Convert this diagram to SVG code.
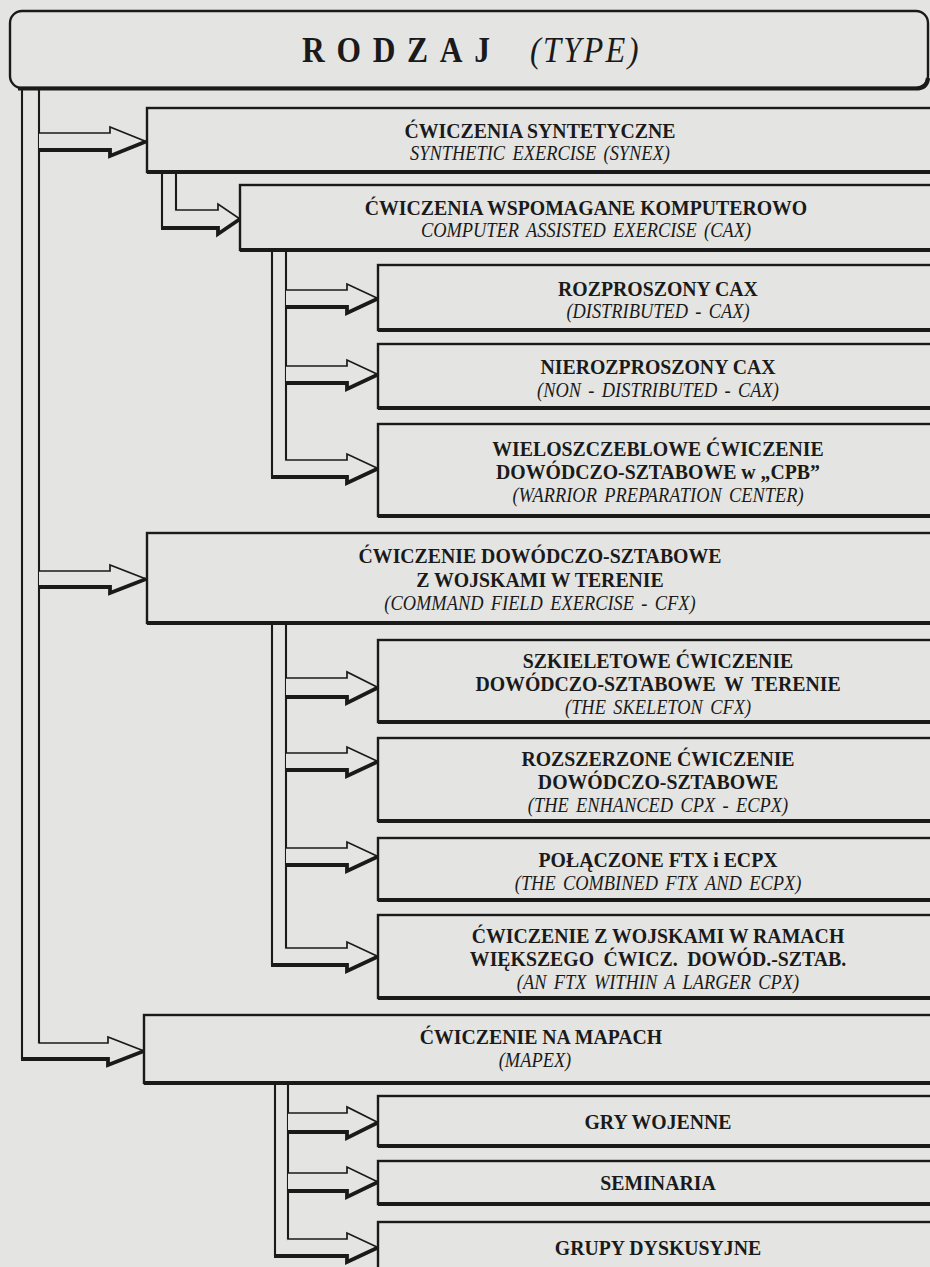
<svg xmlns="http://www.w3.org/2000/svg" width="930" height="1267" viewBox="0 0 930 1267">
<style>
.bg{fill:#e4e5e2}
.box{fill:#e4e5e2;stroke:#1a1a1a;stroke-width:2.4}
.shadow{fill:none;stroke:#1a1a1a;stroke-width:4.2}
.bar{fill:none;stroke:#1a1a1a;stroke-width:2.1}
.ar{fill:#e4e5e2;stroke:#1a1a1a;stroke-width:1.7;stroke-linejoin:miter}
.arl{fill:none;stroke:#1a1a1a;stroke-width:3.8;stroke-linejoin:miter}
.b{font-family:"Liberation Serif","Times New Roman",serif;font-weight:bold;font-size:22px;fill:#1a1a1a;text-anchor:middle}
.i{font-family:"Liberation Serif","Times New Roman",serif;font-style:italic;font-size:20px;fill:#1a1a1a;text-anchor:middle;word-spacing:3px}
</style>
<rect class="bg" x="0" y="0" width="930" height="1267"/>

<g id="root">
  <rect class="box" x="10" y="11" width="918" height="77" rx="12" ry="12"/>
  <path class="shadow" d="M18,88.5 H916 Q927,88.5 928,78"/>
  <text transform="translate(302,62) scale(0.9,1)" style="font-family:'Liberation Serif','Times New Roman',serif;font-weight:bold;font-size:35px;letter-spacing:13px;fill:#1a1a1a">RODZAJ</text>
  <text transform="translate(530,62) scale(0.9,1)" style="font-family:'Liberation Serif','Times New Roman',serif;font-style:italic;font-size:36px;letter-spacing:2.5px;fill:#1a1a1a">(TYPE)</text>
</g>

<g id="connectors">
  <path class="bar" d="M22,89 V1059 M39,89 V1059"/>
  <path class="bar" d="M162,172 V228 M176,172 V228"/>
  <path class="bar" d="M272,250 V477 M286,250 V477"/>
  <path class="bar" d="M272,623 V965 M286,623 V965"/>
  <path class="bar" d="M275,1083 V1256 M288,1083 V1256"/>

  <path class="ar" d="M39,133 H110 V127 L146,141.5 L110,156 V150 H39"/>
  <path class="arl" d="M39,150 H110 V156 L146,141.5"/>
  <path class="ar" d="M39,571 H110 V565 L146,579 L110,593 V587 H39"/>
  <path class="arl" d="M39,587 H110 V593 L146,579"/>
  <path class="ar" d="M39,1043 H108 V1037 L144,1051 L108,1065 V1059 H22"/>
  <path class="arl" d="M21,1059 H108 V1065 L144,1051"/>

  <path class="ar" d="M176,210 H218 V204 L240,219 L218,234 V228 H162"/>
  <path class="arl" d="M161,228 H218 V234 L240,219"/>

  <path class="ar" d="M286,290 H347 V284 L378,298.5 L347,313 V307 H286"/>
  <path class="arl" d="M286,307 H347 V313 L378,298.5"/>
  <path class="ar" d="M286,366 H347 V360 L378,374.5 L347,389 V383 H286"/>
  <path class="arl" d="M286,383 H347 V389 L378,374.5"/>
  <path class="ar" d="M286,460 H347 V454 L378,468.5 L347,483 V477 H272"/>
  <path class="arl" d="M271,477 H347 V483 L378,468.5"/>

  <path class="ar" d="M286,678 H347 V672 L378,687.5 L347,703 V697 H286"/>
  <path class="arl" d="M286,697 H347 V703 L378,687.5"/>
  <path class="ar" d="M286,753 H347 V747 L378,761.5 L347,776 V770 H286"/>
  <path class="arl" d="M286,770 H347 V776 L378,761.5"/>
  <path class="ar" d="M286,848 H347 V842 L378,856.5 L347,871 V865 H286"/>
  <path class="arl" d="M286,865 H347 V871 L378,856.5"/>
  <path class="ar" d="M286,948 H347 V942 L378,956.5 L347,971 V965 H272"/>
  <path class="arl" d="M271,965 H347 V971 L378,956.5"/>

  <path class="ar" d="M288,1113 H347 V1107 L378,1122.5 L347,1138 V1132 H288"/>
  <path class="arl" d="M288,1132 H347 V1138 L378,1122.5"/>
  <path class="ar" d="M288,1173 H347 V1167 L378,1182 L347,1197 V1191 H288"/>
  <path class="arl" d="M288,1191 H347 V1197 L378,1182"/>
  <path class="ar" d="M288,1239 H347 V1233 L378,1247.5 L347,1262 V1256 H275"/>
  <path class="arl" d="M274,1256 H347 V1262 L378,1247.5"/>
</g>

<g id="synex">
  <rect class="box" x="147" y="108" width="800" height="64"/>
  <path class="shadow" d="M147,172 H930"/>
  <text class="b" transform="translate(540,138) scale(0.9,1)">ĆWICZENIA SYNTETYCZNE</text>
  <text class="i" transform="translate(540,160) scale(0.92,1)">SYNTHETIC EXERCISE (SYNEX)</text>
</g>

<g id="cax">
  <rect class="box" x="240" y="185" width="700" height="65"/>
  <path class="shadow" d="M240,250 H930"/>
  <text class="b" transform="translate(586,215) scale(0.9,1)">ĆWICZENIA WSPOMAGANE KOMPUTEROWO</text>
  <text class="i" transform="translate(586,237) scale(0.92,1)">COMPUTER ASSISTED EXERCISE (CAX)</text>
</g>

<g id="cax-distributed">
  <rect class="box" x="378" y="265" width="560" height="65"/>
  <path class="shadow" d="M378,330 H930"/>
  <text class="b" transform="translate(658,296) scale(0.9,1)">ROZPROSZONY CAX</text>
  <text class="i" transform="translate(658,318) scale(0.92,1)">(DISTRIBUTED - CAX)</text>
</g>

<g id="cax-non-distributed">
  <rect class="box" x="378" y="344" width="560" height="64"/>
  <path class="shadow" d="M378,408 H930"/>
  <text class="b" transform="translate(658,374) scale(0.9,1)">NIEROZPROSZONY CAX</text>
  <text class="i" transform="translate(658,397) scale(0.92,1)">(NON - DISTRIBUTED - CAX)</text>
</g>

<g id="wpc">
  <rect class="box" x="378" y="424" width="560" height="92"/>
  <path class="shadow" d="M378,516 H930"/>
  <text class="b" transform="translate(658,456) scale(0.9,1)">WIELOSZCZEBLOWE ĆWICZENIE</text>
  <text class="b" transform="translate(658,479) scale(0.9,1)">DOWÓDCZO-SZTABOWE w „CPB”</text>
  <text class="i" transform="translate(658,502) scale(0.92,1)">(WARRIOR PREPARATION CENTER)</text>
</g>

<g id="cfx">
  <rect class="box" x="147" y="533" width="800" height="90"/>
  <path class="shadow" d="M147,623 H930"/>
  <text class="b" transform="translate(540,563) scale(0.9,1)">ĆWICZENIE DOWÓDCZO-SZTABOWE</text>
  <text class="b" transform="translate(540,587) scale(0.9,1)">Z WOJSKAMI W TERENIE</text>
  <text class="i" transform="translate(540,610) scale(0.92,1)">(COMMAND FIELD EXERCISE - CFX)</text>
</g>

<g id="skeleton-cfx">
  <rect class="box" x="378" y="640" width="560" height="82"/>
  <path class="shadow" d="M378,722 H930"/>
  <text class="b" transform="translate(658,668) scale(0.9,1)">SZKIELETOWE ĆWICZENIE</text>
  <text class="b" transform="translate(658,691) scale(0.9,1)" style="word-spacing:4px">DOWÓDCZO-SZTABOWE W TERENIE</text>
  <text class="i" transform="translate(658,714) scale(0.92,1)">(THE SKELETON CFX)</text>
</g>

<g id="ecpx">
  <rect class="box" x="378" y="738" width="560" height="83"/>
  <path class="shadow" d="M378,821 H930"/>
  <text class="b" transform="translate(658,766) scale(0.9,1)">ROZSZERZONE ĆWICZENIE</text>
  <text class="b" transform="translate(658,789) scale(0.9,1)">DOWÓDCZO-SZTABOWE</text>
  <text class="i" transform="translate(658,812) scale(0.92,1)">(THE ENHANCED CPX - ECPX)</text>
</g>

<g id="ftx-ecpx">
  <rect class="box" x="378" y="838" width="560" height="62"/>
  <path class="shadow" d="M378,900 H930"/>
  <text class="b" transform="translate(658,867) scale(0.9,1)">POŁĄCZONE FTX i ECPX</text>
  <text class="i" transform="translate(658,890) scale(0.92,1)">(THE COMBINED FTX AND ECPX)</text>
</g>

<g id="ftx-in-cpx">
  <rect class="box" x="378" y="915" width="560" height="83"/>
  <path class="shadow" d="M378,998 H930"/>
  <text class="b" transform="translate(658,943) scale(0.9,1)">ĆWICZENIE Z WOJSKAMI W RAMACH</text>
  <text class="b" transform="translate(658,966) scale(0.9,1)" style="word-spacing:5px">WIĘKSZEGO ĆWICZ. DOWÓD.-SZTAB.</text>
  <text class="i" transform="translate(658,989) scale(0.92,1)">(AN FTX WITHIN A LARGER CPX)</text>
</g>

<g id="mapex">
  <rect class="box" x="144" y="1015" width="800" height="68"/>
  <path class="shadow" d="M144,1083 H930"/>
  <text class="b" transform="translate(541,1044) scale(0.9,1)">ĆWICZENIE NA MAPACH</text>
  <text class="i" transform="translate(535,1067) scale(0.92,1)">(MAPEX)</text>
</g>

<g id="wargames">
  <rect class="box" x="378" y="1096" width="560" height="50"/>
  <path class="shadow" d="M378,1146 H930"/>
  <text class="b" transform="translate(658,1129) scale(0.9,1)">GRY WOJENNE</text>
</g>

<g id="seminars">
  <rect class="box" x="378" y="1161" width="560" height="43"/>
  <path class="shadow" d="M378,1204 H930"/>
  <text class="b" transform="translate(658,1190) scale(0.9,1)">SEMINARIA</text>
</g>

<g id="discussion-groups">
  <rect class="box" x="378" y="1222" width="560" height="60"/>
  <text class="b" transform="translate(658,1255) scale(0.9,1)">GRUPY DYSKUSYJNE</text>
</g>
</svg>
